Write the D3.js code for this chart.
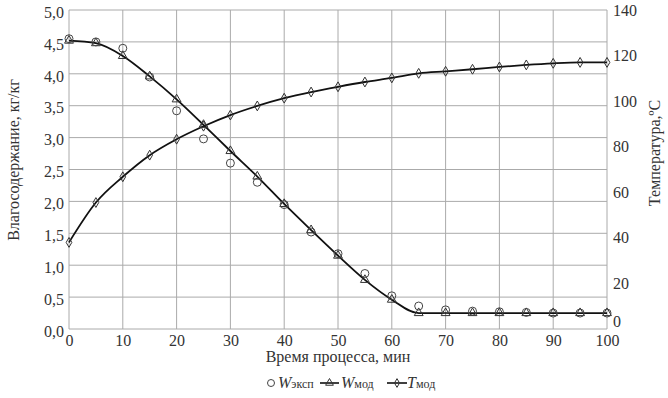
<!DOCTYPE html>
<html>
<head>
<meta charset="utf-8">
<script src="https://cdn.jsdelivr.net/npm/d3@7"></script>
<style>
  body { margin: 0; background: #fff; }
</style>
</head>
<body>
<div id="chart"></div>
<script>
// time points, min
const times = [0, 5, 10, 15, 20, 25, 30, 35, 40, 45, 50, 55, 60, 65, 70, 75, 80, 85, 90, 95, 100];
// experimental moisture content, kg/kg
const wExp = [4.55, 4.5, 4.4, 3.95, 3.42, 2.98, 2.6, 2.3, 1.95, 1.52, 1.18, 0.87, 0.52, 0.36, 0.3, 0.28, 0.27, 0.26, 0.25, 0.25, 0.25];
// model moisture content, kg/kg
const wMod = [4.52, 4.48, 4.28, 3.96, 3.6, 3.2, 2.79, 2.39, 1.96, 1.55, 1.15, 0.77, 0.46, 0.25, 0.25, 0.25, 0.25, 0.25, 0.25, 0.25, 0.25];
// model temperature, C
const tMod = [38, 55.5, 66.8, 76.3, 83.3, 89, 93.9, 97.9, 101.3, 104, 106.3, 108.4, 110.2, 112.2, 113.1, 114, 115, 115.9, 116.6, 117, 117];

const xTicks = [0, 10, 20, 30, 40, 50, 60, 70, 80, 90, 100];
const yLeftTicks = [0, 0.5, 1, 1.5, 2, 2.5, 3, 3.5, 4, 4.5, 5];
const yRightTicks = [0, 20, 40, 60, 80, 100, 120, 140];

const width = 668, height = 398;
const margin = { left: 69, top: 10, right: 61, bottom: 69 };
const FONT = "'Liberation Serif', 'Times New Roman', 'DejaVu Serif', serif";

const svg = d3.select("#chart").append("svg")
    .attr("width", width)
    .attr("height", height)
    .attr("font-family", FONT);

const x = d3.scaleLinear().domain([0, 100]).range([margin.left, width - margin.right]);
const yL = d3.scaleLinear().domain([0, 5]).range([height - margin.bottom, margin.top]);
const yR = d3.scaleLinear().domain([0, 140]).range([height - margin.bottom, margin.top]);

const fmt = d => d3.format(".1f")(d).replace(".", ",");

// grid
svg.append("g").selectAll("line.h")
    .data(yLeftTicks).enter().append("line")
    .attr("x1", x(0)).attr("x2", x(100))
    .attr("y1", d => yL(d)).attr("y2", d => yL(d))
    .attr("stroke", "#aaa").attr("stroke-width", 1);
svg.append("g").selectAll("line.v")
    .data(xTicks).enter().append("line")
    .attr("x1", d => x(d)).attr("x2", d => x(d))
    .attr("y1", yL(0)).attr("y2", yL(5))
    .attr("stroke", "#aaa").attr("stroke-width", 1);

// axes
const axL = svg.append("g")
    .attr("transform", "translate(" + x(0) + ",0)")
    .call(d3.axisLeft(yL).tickValues(yLeftTicks).tickFormat(fmt).tickSize(0).tickPadding(5));
const axR = svg.append("g")
    .attr("transform", "translate(" + x(100) + ",0)")
    .call(d3.axisRight(yR).tickValues(yRightTicks).tickSize(0).tickPadding(6));
const axB = svg.append("g")
    .attr("transform", "translate(0," + yL(0) + ")")
    .call(d3.axisBottom(x).tickValues(xTicks).tickSize(0).tickPadding(6));
[axL, axR, axB].forEach(a => {
    a.attr("font-family", FONT).attr("font-size", 16);
    a.select(".domain").remove();
    a.selectAll("text").attr("fill", "#333");
});
axL.selectAll("text").attr("dy", "0.45em");
axR.selectAll("text").attr("dy", d => d === 0 ? "-0.15em" : "0.32em");

// lines
const lineW = d3.line().x((d, i) => x(times[i])).y(d => yL(d)).curve(d3.curveMonotoneX);
const lineT = d3.line().x((d, i) => x(times[i])).y(d => yR(d)).curve(d3.curveMonotoneX);

svg.append("path").datum(wMod).attr("d", lineW)
    .attr("fill", "none").attr("stroke", "#111").attr("stroke-width", 1.8);
svg.append("path").datum(tMod).attr("d", lineT)
    .attr("fill", "none").attr("stroke", "#111").attr("stroke-width", 1.8);

const triangle = d3.symbol().type(d3.symbolTriangle).size(34);
const diamond = d3.symbol().type(d3.symbolDiamond).size(28);

svg.append("g").selectAll("path")
    .data(wMod).enter().append("path")
    .attr("d", triangle)
    .attr("transform", (d, i) => "translate(" + x(times[i]) + "," + yL(d) + ")")
    .attr("fill", "none").attr("stroke", "#333").attr("stroke-width", 1);

svg.append("g").selectAll("path")
    .data(tMod).enter().append("path")
    .attr("d", diamond)
    .attr("transform", (d, i) => "translate(" + x(times[i]) + "," + yR(d) + ")")
    .attr("fill", "none").attr("stroke", "#333").attr("stroke-width", 1);

svg.append("g").selectAll("circle")
    .data(wExp).enter().append("circle")
    .attr("cx", (d, i) => x(times[i]))
    .attr("cy", d => yL(d))
    .attr("r", 4)
    .attr("fill", "none").attr("stroke", "#444").attr("stroke-width", 1);

// axis titles
svg.append("text")
    .attr("transform", "translate(19,160) rotate(-90)")
    .attr("text-anchor", "middle")
    .attr("font-size", 16).attr("fill", "#333")
    .text("Влагосодержание, кг/кг");
svg.append("text")
    .attr("transform", "translate(660,153) rotate(-90)")
    .attr("text-anchor", "middle")
    .attr("font-size", 16).attr("fill", "#333")
    .text("Температура,ºС");
svg.append("text")
    .attr("x", 338).attr("y", 362)
    .attr("text-anchor", "middle")
    .attr("font-size", 16).attr("fill", "#333")
    .text("Время процесса, мин");

// legend
const lg = svg.append("g").attr("transform", "translate(0,383)");
lg.append("circle").attr("cx", 271).attr("cy", 0).attr("r", 3.5)
    .attr("fill", "none").attr("stroke", "#444");
const t1 = lg.append("text").attr("x", 278).attr("y", 5).attr("font-size", 16).attr("fill", "#333");
t1.append("tspan").attr("font-style", "italic").text("W");
t1.append("tspan").attr("font-size", 12).text("эксп");

lg.append("line").attr("x1", 320).attr("x2", 339).attr("y1", 0).attr("y2", 0)
    .attr("stroke", "#111").attr("stroke-width", 1.6);
lg.append("path").attr("d", d3.symbol().type(d3.symbolTriangle).size(26))
    .attr("transform", "translate(329.5,0)")
    .attr("fill", "none").attr("stroke", "#333");
const t2 = lg.append("text").attr("x", 341).attr("y", 5).attr("font-size", 16).attr("fill", "#333");
t2.append("tspan").attr("font-style", "italic").text("W");
t2.append("tspan").attr("font-size", 12).text("мод");

lg.append("line").attr("x1", 387).attr("x2", 407).attr("y1", 0).attr("y2", 0)
    .attr("stroke", "#111").attr("stroke-width", 1.6);
lg.append("path").attr("d", d3.symbol().type(d3.symbolDiamond).size(22))
    .attr("transform", "translate(397,0)")
    .attr("fill", "none").attr("stroke", "#333");
const t3 = lg.append("text").attr("x", 407).attr("y", 5).attr("font-size", 16).attr("fill", "#333");
t3.append("tspan").attr("font-style", "italic").text("T");
t3.append("tspan").attr("font-size", 12).text("мод");
</script>
</body>
</html>
